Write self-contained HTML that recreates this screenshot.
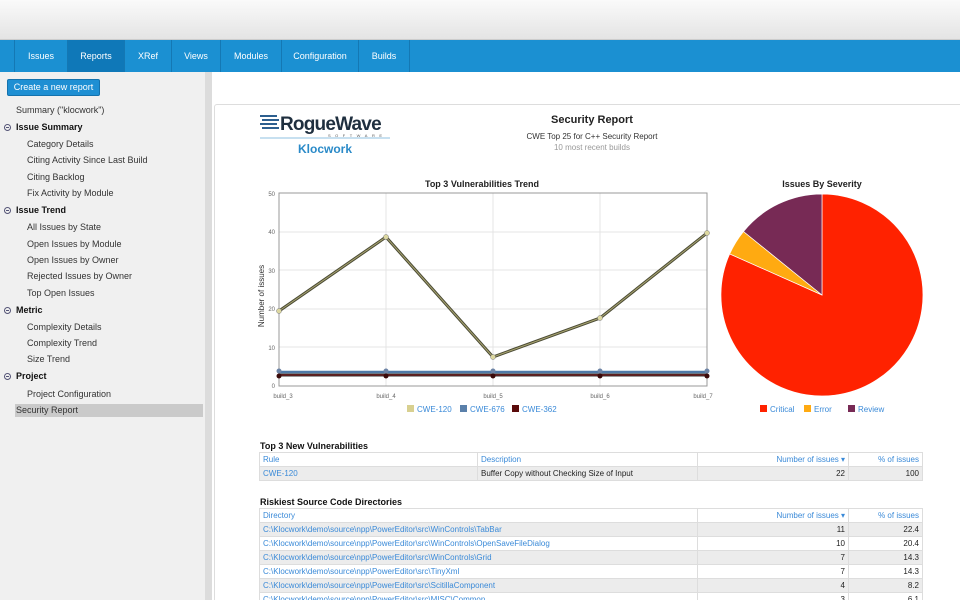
<!DOCTYPE html>
<html><head><meta charset="utf-8"><style>
*{margin:0;padding:0;box-sizing:border-box}
html,body{width:960px;height:600px;overflow:hidden}
body{background:#fff;font-family:"Liberation Sans",Arial,sans-serif;font-size:9px;color:#222;position:relative}
.a{position:absolute}
#top{left:0;top:0;width:960px;height:40px;background:linear-gradient(#fafafa,#e4e4e4);border-bottom:1px solid #ccc}
#nav{left:0;top:40px;width:960px;height:32px;background:#1b90d2}
.tab{position:absolute;top:0;height:32px;line-height:32px;text-align:center;color:#fff;font-size:9px;border-left:1px solid #1478b4}
#side{left:0;top:72px;width:205px;height:528px;background:#f0f0f0}
#div{left:205px;top:72px;width:7px;height:528px;background:#dcdcdc}
.si{position:absolute;font-size:9px;color:#333}
.sh{position:absolute;font-size:9px;font-weight:bold;color:#111}
.mi{position:absolute;left:4px;width:7px;height:7px;border:1px solid #557;border-radius:50%}
.mi:after{content:"";position:absolute;left:1px;top:2px;width:3px;height:1px;background:#557}
#btn{left:7px;top:79px;width:93px;height:17px;background:#1e8fd3;border:1px solid #1472ad;border-radius:2px;color:#fff;font-size:9px;line-height:15px;text-align:center}
#card{left:214px;top:104px;width:760px;height:500px;border:1px solid #ddd;border-radius:3px;background:#fff}
table{position:absolute;border-collapse:collapse;font-size:8px}
td{height:14px;padding:0 3px;border:1px solid #ddd;color:#222}
.h td{color:#3a8ad8;background:#fff}
.g td{background:#ececec}
.l{color:#3a8ad8!important}
.r{text-align:right}
</style></head><body>
<div id="top" class="a"></div>
<div id="nav" class="a">
<div class="tab" style="left:14px;width:53px">Issues</div>
<div class="tab" style="left:67px;width:57px;background:#0f78b8">Reports</div>
<div class="tab" style="left:124px;width:47px">XRef</div>
<div class="tab" style="left:171px;width:49px">Views</div>
<div class="tab" style="left:220px;width:61px">Modules</div>
<div class="tab" style="left:281px;width:77px">Configuration</div>
<div class="tab" style="left:358px;width:52px;border-right:1px solid #1478b4">Builds</div>
</div>
<div id="side" class="a"></div>
<div id="div" class="a"></div>
<div id="btn" class="a">Create a new report</div>
<div class="si" style="left:16px;top:105px">Summary ("klocwork")</div>
<div class="mi" style="top:124px"></div><div class="sh" style="left:16px;top:122px">Issue Summary</div>
<div class="si" style="left:27px;top:139px">Category Details</div>
<div class="si" style="left:27px;top:155px">Citing Activity Since Last Build</div>
<div class="si" style="left:27px;top:172px">Citing Backlog</div>
<div class="si" style="left:27px;top:188px">Fix Activity by Module</div>
<div class="mi" style="top:207px"></div><div class="sh" style="left:16px;top:205px">Issue Trend</div>
<div class="si" style="left:27px;top:222px">All Issues by State</div>
<div class="si" style="left:27px;top:239px">Open Issues by Module</div>
<div class="si" style="left:27px;top:255px">Open Issues by Owner</div>
<div class="si" style="left:27px;top:271px">Rejected Issues by Owner</div>
<div class="si" style="left:27px;top:288px">Top Open Issues</div>
<div class="mi" style="top:307px"></div><div class="sh" style="left:16px;top:305px">Metric</div>
<div class="si" style="left:27px;top:322px">Complexity Details</div>
<div class="si" style="left:27px;top:338px">Complexity Trend</div>
<div class="si" style="left:27px;top:354px">Size Trend</div>
<div class="mi" style="top:373px"></div><div class="sh" style="left:16px;top:371px">Project</div>
<div class="si" style="left:27px;top:389px">Project Configuration</div>
<div class="a" style="left:15px;top:404px;width:188px;height:13px;background:#cacaca"></div>
<div class="si" style="left:16px;top:405px">Security Report</div>

<div id="card" class="a"></div>
<svg class="a" style="left:0;top:0" width="960" height="600">
<g fill="#2d5f8f"><rect x="260" y="115" width="17" height="2"/><rect x="262" y="119" width="17" height="2"/><rect x="260" y="123" width="17" height="2"/><rect x="262" y="127" width="17" height="2"/></g>
<text x="280" y="130" font-size="19" font-weight="bold" letter-spacing="-0.8" font-family="Liberation Sans" fill="#1f2f3f">RogueWave</text>
<text x="328" y="137" font-size="4" letter-spacing="4.5" fill="#555">SOFTWARE</text>
<line x1="260" y1="138" x2="390" y2="138" stroke="#8fc0e0" stroke-width="1"/>
<text x="325" y="153" font-size="12" font-weight="bold" text-anchor="middle" fill="#2a8ac8">Klocwork</text>
<text x="592" y="123" font-size="11" font-weight="bold" text-anchor="middle" fill="#222">Security Report</text>
<text x="592" y="139" font-size="8" text-anchor="middle" fill="#333">CWE Top 25 for C++ Security Report</text>
<text x="592" y="150" font-size="8" text-anchor="middle" fill="#999">10 most recent builds</text>

<text x="482" y="187" font-size="9" font-weight="bold" text-anchor="middle" fill="#222">Top 3 Vulnerabilities Trend</text>
<g stroke="#e4e4e4" stroke-width="1">
<line x1="279" y1="232" x2="707" y2="232"/><line x1="279" y1="270" x2="707" y2="270"/><line x1="279" y1="309" x2="707" y2="309"/><line x1="279" y1="347" x2="707" y2="347"/>
<line x1="386" y1="193" x2="386" y2="386"/><line x1="493" y1="193" x2="493" y2="386"/><line x1="600" y1="193" x2="600" y2="386"/>
</g>
<rect x="279" y="193" width="428" height="193" fill="none" stroke="#999"/>
<g font-size="6" fill="#666" text-anchor="end"><text x="275" y="196">50</text><text x="275" y="234">40</text><text x="275" y="273">30</text><text x="275" y="311">20</text><text x="275" y="350">10</text><text x="275" y="388">0</text></g>
<g font-size="6" fill="#666" text-anchor="middle"><text x="283" y="398">build_3</text><text x="386" y="398">build_4</text><text x="493" y="398">build_5</text><text x="600" y="398">build_6</text><text x="703" y="398">build_7</text></g>
<text transform="translate(264,296) rotate(-90)" font-size="8" fill="#333" text-anchor="middle">Number of issues</text>
<polyline points="279,372 386,372 493,372 600,372 707,372" fill="none" stroke="#4f7aa8" stroke-width="2.5"/>
<polyline points="279,375 386,375 493,375 600,375 707,375" fill="none" stroke="#333" stroke-width="3"/>
<polyline points="279,375 386,375 493,375 600,375 707,375" fill="none" stroke="#6a1a1a" stroke-width="1.5"/>
<g fill="#6d84a6"><circle cx="279" cy="371" r="2.5"/><circle cx="386" cy="371" r="2.5"/><circle cx="493" cy="371" r="2.5"/><circle cx="600" cy="371" r="2.5"/><circle cx="707" cy="371" r="2.5"/></g>
<g fill="#3a0a0a"><circle cx="279" cy="376" r="2.5"/><circle cx="386" cy="376" r="2.5"/><circle cx="493" cy="376" r="2.5"/><circle cx="600" cy="376" r="2.5"/><circle cx="707" cy="376" r="2.5"/></g>
<polyline points="279,311 386,237 493,357 600,318 707,233" fill="none" stroke="#4a4a35" stroke-width="3"/>
<polyline points="279,311 386,237 493,357 600,318 707,233" fill="none" stroke="#a8a470" stroke-width="1"/>
<g fill="#ddd8a0" stroke="#777" stroke-width=".5"><circle cx="279" cy="311" r="2.5"/><circle cx="386" cy="237" r="2.5"/><circle cx="493" cy="357" r="2.5"/><circle cx="600" cy="318" r="2.5"/><circle cx="707" cy="233" r="2.5"/></g>
<rect x="407" y="405" width="7" height="7" fill="#d8d090"/><text x="417" y="412" font-size="8" fill="#3a8ad8">CWE-120</text>
<rect x="460" y="405" width="7" height="7" fill="#5a80aa"/><text x="470" y="412" font-size="8" fill="#3a8ad8">CWE-676</text>
<rect x="512" y="405" width="7" height="7" fill="#5a0a0a"/><text x="522" y="412" font-size="8" fill="#3a8ad8">CWE-362</text>

<text x="822" y="187" font-size="9" font-weight="bold" text-anchor="middle" fill="#222">Issues By Severity</text>
<path d="M822,295 L822,194 A101,101 0 1 1 729.7,253.9 Z" fill="#ff2200" stroke="#fff" stroke-width=".7"/>
<path d="M822,295 L729.7,253.9 A101,101 0 0 1 743.5,231.5 Z" fill="#ffaa11" stroke="#fff" stroke-width=".7"/>
<path d="M822,295 L743.5,231.5 A101,101 0 0 1 822,194 Z" fill="#772a55" stroke="#fff" stroke-width=".7"/>
<rect x="760" y="405" width="7" height="7" fill="#ff2200"/><text x="770" y="412" font-size="8" fill="#3a8ad8">Critical</text>
<rect x="804" y="405" width="7" height="7" fill="#ffaa11"/><text x="814" y="412" font-size="8" fill="#3a8ad8">Error</text>
<rect x="848" y="405" width="7" height="7" fill="#772a55"/><text x="858" y="412" font-size="8" fill="#3a8ad8">Review</text>
<text x="260" y="449" font-size="9" font-weight="bold" fill="#111">Top 3 New Vulnerabilities</text>
<text x="260" y="505" font-size="9" font-weight="bold" fill="#111">Riskiest Source Code Directories</text>
</svg>
<table style="left:259px;top:452px;width:664px">
<tr class="h"><td style="width:218px">Rule</td><td style="width:220px">Description</td><td class="r" style="width:151px">Number of issues ▾</td><td class="r">% of issues</td></tr>
<tr class="g"><td class="l">CWE-120</td><td>Buffer Copy without Checking Size of Input</td><td class="r">22</td><td class="r">100</td></tr>
</table>
<table style="left:259px;top:508px;width:664px">
<tr class="h"><td style="width:438px">Directory</td><td class="r" style="width:151px">Number of issues ▾</td><td class="r">% of issues</td></tr>
<tr class="g"><td class="l">C:\Klocwork\demo\source\npp\PowerEditor\src\WinControls\TabBar</td><td class="r">11</td><td class="r">22.4</td></tr>
<tr><td class="l">C:\Klocwork\demo\source\npp\PowerEditor\src\WinControls\OpenSaveFileDialog</td><td class="r">10</td><td class="r">20.4</td></tr>
<tr class="g"><td class="l">C:\Klocwork\demo\source\npp\PowerEditor\src\WinControls\Grid</td><td class="r">7</td><td class="r">14.3</td></tr>
<tr><td class="l">C:\Klocwork\demo\source\npp\PowerEditor\src\TinyXml</td><td class="r">7</td><td class="r">14.3</td></tr>
<tr class="g"><td class="l">C:\Klocwork\demo\source\npp\PowerEditor\src\ScitillaComponent</td><td class="r">4</td><td class="r">8.2</td></tr>
<tr><td class="l">C:\Klocwork\demo\source\npp\PowerEditor\src\MISC\Common</td><td class="r">3</td><td class="r">6.1</td></tr>
</table>
</body></html>
